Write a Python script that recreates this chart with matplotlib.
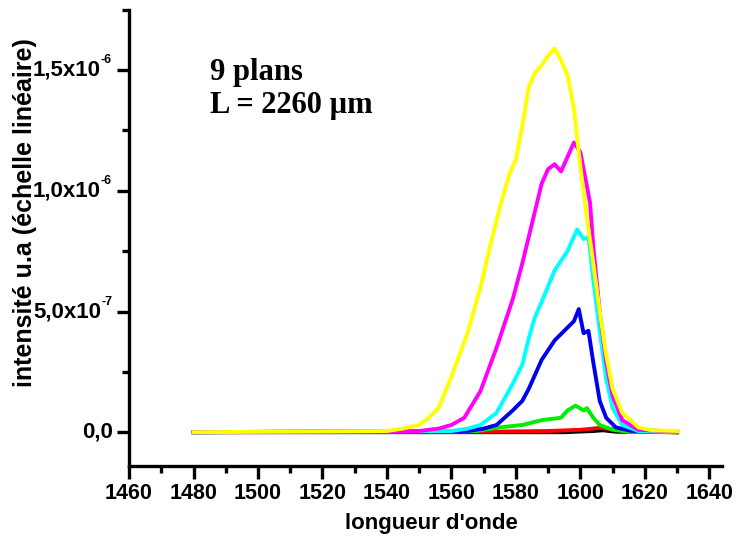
import numpy as np
import matplotlib
matplotlib.use('Agg')
import matplotlib.pyplot as plt
import matplotlib.transforms as mtransforms
from matplotlib.ticker import MultipleLocator, FixedLocator, NullFormatter

plt.rcParams['font.family'] = ['Liberation Sans', 'DejaVu Sans']
plt.rcParams['font.weight'] = 'bold'

# values, intensity in units of 1e-7
wl_yellow = [1480, 1540, 1545, 1550, 1553, 1556, 1560, 1565, 1569, 1572, 1575, 1578, 1580, 1582, 1584, 1586,
             1588, 1590, 1592, 1594, 1596, 1598, 1600, 1602, 1604, 1606, 1608, 1610, 1613, 1618, 1622, 1630]
yellow = [0.0, 0.05, 0.15, 0.3, 0.6, 1.0, 2.3, 4.1, 6.0, 7.7, 9.3, 10.7, 11.3, 12.7, 14.3, 14.9,
          15.2, 15.6, 15.9, 15.4, 14.8, 13.4, 11.0, 8.9, 7.0, 5.0, 3.2, 1.8, 0.8, 0.2, 0.08, 0.05]

wl_magenta = [1480, 1550, 1556, 1560, 1564, 1569, 1574, 1579, 1582, 1584, 1586, 1588, 1590, 1592, 1594,
              1596, 1598, 1600, 1602, 1603, 1604, 1606, 1608, 1610, 1613, 1618, 1630]
magenta = [0.0, 0.05, 0.15, 0.3, 0.6, 1.7, 3.5, 5.5, 7.0, 8.1, 9.2, 10.3, 10.9, 11.1, 10.8,
           11.4, 12.0, 11.6, 10.2, 9.5, 7.7, 5.0, 2.9, 1.5, 0.5, 0.1, 0.02]

wl_cyan = [1480, 1560, 1565, 1569, 1574, 1579, 1582, 1584, 1586, 1588, 1592, 1596, 1599, 1601, 1602.5,
           1604, 1606, 1608, 1610, 1613, 1618, 1630]
cyan = [0.0, 0.05, 0.15, 0.3, 0.8, 2.0, 2.8, 3.9, 4.8, 5.4, 6.7, 7.5, 8.4, 8.0, 8.1,
        6.3, 4.2, 2.2, 1.0, 0.3, 0.05, 0.0]

wl_blue = [1480, 1565, 1570, 1574, 1579, 1582, 1584, 1586, 1588, 1592, 1595, 1598, 1599.5, 1601, 1602.5,
           1604, 1606, 1608, 1611, 1616, 1630]
blue = [0.0, 0.05, 0.15, 0.3, 0.9, 1.3, 1.8, 2.4, 3.0, 3.8, 4.2, 4.6, 5.1, 4.1, 4.2,
        2.9, 1.3, 0.6, 0.2, 0.05, 0.0]

wl_green = [1480, 1568, 1575, 1582, 1588, 1594, 1596, 1598.5, 1601, 1602, 1604, 1606, 1610, 1615, 1630]
green = [0.0, 0.05, 0.2, 0.3, 0.5, 0.6, 0.9, 1.1, 0.9, 1.0, 0.6, 0.3, 0.1, 0.02, 0.0]

wl_red = [1480, 1570, 1590, 1600, 1606, 1610, 1615, 1630]
red = [0.0, 0.02, 0.05, 0.1, 0.18, 0.12, 0.03, 0.0]

wl_black = [1480, 1595, 1604, 1607, 1611, 1630]
black = [0.0, 0.0, 0.05, 0.08, 0.02, 0.0]

series = [(wl_black, black, 'black'), (wl_red, red, 'red'), (wl_green, green, '#00ee00'),
          (wl_blue, blue, '#0000ee'), (wl_cyan, cyan, 'cyan'), (wl_magenta, magenta, 'magenta'),
          (wl_yellow, yellow, 'yellow')]

yticks = [0, 5e-7, 1e-6, 1.5e-6]
ylab_main = ['0,0', '5,0x10', '1,0x10', '1,5x10']
ylab_exp = ['', '-7', '-6', '-6']

fig = plt.figure(figsize=(7.36, 5.4), dpi=100)
ax = fig.add_axes([0.1753, 0.137, 0.806, 0.845])

for wl, v, c in series:
    ax.plot(wl, np.array(v) * 1e-7, color=c, lw=2.8)

ax.set_xlim(1460, 1644)
ax.set_ylim(-1.4e-7, 1.75e-6)
ax.xaxis.set_major_locator(MultipleLocator(20))
ax.xaxis.set_minor_locator(MultipleLocator(10))
ax.yaxis.set_major_locator(FixedLocator(yticks))
ax.yaxis.set_minor_locator(MultipleLocator(2.5e-7))
ax.yaxis.set_major_formatter(NullFormatter())

for s in ['top', 'right']:
    ax.spines[s].set_visible(False)
for s in ['left', 'bottom']:
    ax.spines[s].set_linewidth(2.4)
ax.tick_params(which='major', direction='out', length=9, width=2.4, pad=3)
ax.tick_params(which='minor', direction='out', length=5, width=2.4)
ax.tick_params(axis='x', labelsize=15.5)

# y tick labels with a small superscript exponent
base = ax.get_yaxis_transform()
for y, m, e in zip(yticks, ylab_main, ylab_exp):
    if e:
        ax.text(0, y, m, fontsize=16, ha='right', va='center',
                transform=mtransforms.offset_copy(base, fig, x=-28, y=0, units='dots'))
        ax.text(0, y, e, fontsize=9, ha='right', va='center',
                transform=mtransforms.offset_copy(base, fig, x=-17, y=10, units='dots'))
    else:
        ax.text(0, y, m, fontsize=16, ha='right', va='center',
                transform=mtransforms.offset_copy(base, fig, x=-16, y=0, units='dots'))

ax.set_xlabel("longueur d'onde", fontsize=16, fontweight='bold')
ax.xaxis.set_label_coords(0.51, -0.103)
ax.set_ylabel("intensité u.a (échelle linéaire)", fontsize=18, fontweight='bold')
ax.yaxis.set_label_coords(-0.155, 0.555)

ax.text(1485, 14.58e-7, "9 plans", family='Liberation Serif', fontsize=22,
        fontweight='bold', va='baseline', ha='left')
ax.text(1485, 13.21e-7, "L = 2260 µm", family='Liberation Serif', fontsize=22,
        fontweight='bold', va='baseline', ha='left')

fig.savefig('out.png', dpi=100)
